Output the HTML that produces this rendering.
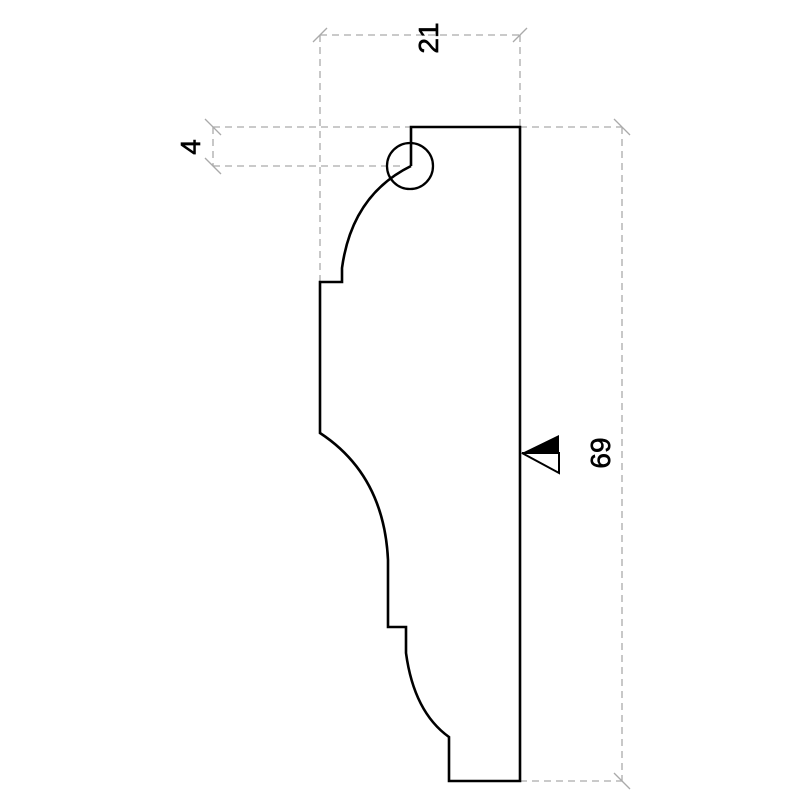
<!DOCTYPE html>
<html><head><style>html,body{margin:0;padding:0;background:#fff;width:800px;height:800px;overflow:hidden}</style></head>
<body>
<svg width="800" height="800" viewBox="0 0 800 800" xmlns="http://www.w3.org/2000/svg">
<g stroke="#aaa" stroke-width="1.3" stroke-dasharray="7,5" fill="none">
<line x1="320" y1="35" x2="520" y2="35"/>
<line x1="320" y1="35" x2="320" y2="282"/>
<line x1="520" y1="35" x2="520" y2="127"/>
<line x1="213" y1="127" x2="411" y2="127"/>
<line x1="520" y1="127" x2="622" y2="127"/>
<line x1="213" y1="166" x2="405" y2="166"/>
<line x1="213" y1="127" x2="213" y2="166"/>
<line x1="622" y1="127" x2="622" y2="781"/>
<line x1="520" y1="781" x2="622" y2="781"/>
</g>
<g stroke="#aaa" stroke-width="1.3">
<line x1="313" y1="42" x2="327" y2="28"/>
<line x1="513" y1="42" x2="527" y2="28"/>
<line x1="205" y1="119" x2="221" y2="135"/>
<line x1="205" y1="158" x2="221" y2="174"/>
<line x1="614" y1="119" x2="630" y2="135"/>
<line x1="614" y1="773" x2="630" y2="789"/>
</g>
<path d="M411,166 L411,127 L520,127 L520,781 L449,781 L449,737 Q414,712 406,653 L406,627 L388,627 L388,560 Q384,475 320,433 L320,282 L342,282 L342,268 Q352,195 411,166" fill="none" stroke="#000" stroke-width="2.6"/>
<circle cx="410" cy="166" r="23" fill="none" stroke="#000" stroke-width="2.3"/>
<polygon points="522,453 559,435 559,453" fill="#000"/>
<polygon points="522,453 559,453 559,473" fill="#fff" stroke="#000" stroke-width="2"/>
<g font-family="Liberation Sans, sans-serif" font-size="28" fill="#000" stroke="#000" stroke-width="0.6" text-anchor="middle">
<text transform="translate(438,38) rotate(-90)">21</text>
<text transform="translate(200,147) rotate(-90)">4</text>
<text transform="translate(610,453) rotate(-90)">69</text>
</g>
</svg>
</body></html>
